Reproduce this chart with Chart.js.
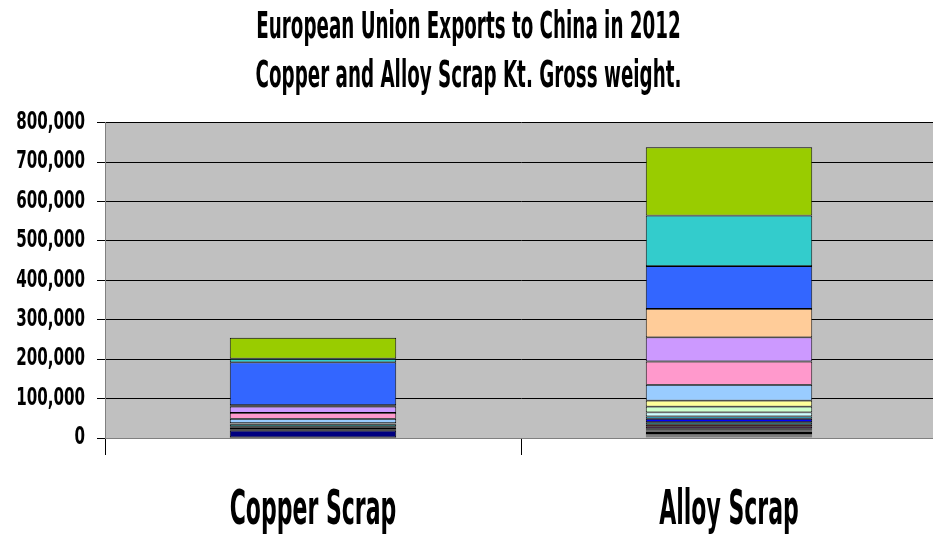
<!DOCTYPE html>
<html>
<head>
<meta charset="utf-8">
<script src="https://cdn.jsdelivr.net/npm/chart.js@4"></script>
<style>
  html, body { margin: 0; padding: 0; background: #fff; }
  /* the plot area runs a few pixels past the right edge */
  #wrap { width: 933px; height: 541px; overflow: hidden; }
</style>
</head>
<body>
<div id="wrap"><canvas id="chart" width="937" height="541"></canvas></div>
<script>
// two product groups, one stacked segment per exporting member state
const categories = ["Copper Scrap", "Alloy Scrap"];

// tonnes per member state, bottom of the stack first
const copperScrap = [
  300, 200, 100, 400, 100, 200, 100, 300, 16800,
  2000, 600, 1500, 3200, 3000, 5800,
  800, 500, 400, 600, 700,
  11000, 15000, 16000, 3500, 109000, 9000, 53000
];
const alloyScrap = [
  2100, 1500, 900, 1300, 700, 2300, 1600, 2200, 3900, 2600, 1800, 2800,
  5100, 5100, 6100, 8900, 5900, 10200, 14500, 15300,
  40000, 59300, 61200, 72100, 108800, 128200, 173200
];

// classic spreadsheet series fill order
const seriesColors = [
  "#9999FF", "#993366", "#FFFFCC", "#CCFFFF", "#660066", "#FF8080", "#0066CC",
  "#CCCCFF", "#000080", "#FF00FF", "#FFFF00", "#00FFFF", "#800080", "#800000",
  "#008080", "#0000FF", "#00CCFF", "#CCFFFF", "#CCFFCC", "#FFFF99", "#99CCFF",
  "#FF99CC", "#CC99FF", "#FFCC99", "#3366FF", "#33CCCC", "#99CC00"
];

const titleLines = [
  "European Union Exports to China in 2012",
  "Copper and Alloy Scrap Kt. Gross weight."
];

const FONT = "'DejaVu Sans Condensed', 'Liberation Sans Narrow', sans-serif";

// horizontal squeeze per font size, gives the tall narrow poster lettering
const textScaleX = { 37: 0.55, 48: 0.51, 24: 0.7 };

const datasets = seriesColors.map((col, i) => ({
  label: "Series " + (i + 1),
  data: [copperScrap[i], alloyScrap[i]],
  backgroundColor: col,
  borderColor: "#000",
  borderWidth: 0.9,
  borderSkipped: false,
  categoryPercentage: 1,
  barPercentage: 0.4
}));

// grey plot area like the old spreadsheet charts
const plotBg = {
  id: "plotBg",
  beforeDraw(c) {
    const { ctx, chartArea: a } = c;
    ctx.save();
    ctx.fillStyle = "#c0c0c0";
    ctx.fillRect(a.left, a.top, a.right - a.left, a.bottom - a.top);
    ctx.restore();
  }
};

const narrowText = {
  id: "narrowText",
  beforeInit(c) {
    const ctx = c.ctx;
    const fill = ctx.fillText;
    ctx.fillText = function (text, x, y) {
      const m = /(\d+(?:\.\d+)?)px/.exec(this.font);
      const sx = (m && textScaleX[Math.round(parseFloat(m[1]))]) || 1;
      this.save();
      this.translate(x, y);
      this.scale(sx, 1);
      fill.call(this, text, 0, 0);
      this.restore();
    };
  }
};

chart = new Chart(document.getElementById("chart"), {
  type: "bar",
  data: { labels: categories, datasets },
  plugins: [plotBg, narrowText],
  options: {
    responsive: false,
    animation: false,
    plugins: {
      legend: { display: false },
      tooltip: { enabled: false },
      title: {
        display: true,
        text: titleLines,
        color: "#000",
        font: { family: FONT, size: 37, weight: "bold", lineHeight: 1.32 },
        padding: { top: 4, bottom: 21 }
      }
    },
    scales: {
      x: {
        stacked: true,
        offset: true,
        grid: { drawOnChartArea: false, color: "#000", tickLength: 17 },
        border: { color: "#808080" },
        ticks: {
          color: "#000",
          padding: 28,
          maxRotation: 0,
          font: { family: FONT, size: 48, weight: "bold" }
        },
        afterFit(s) { s.height = 103; }
      },
      y: {
        stacked: true,
        min: 0,
        max: 800000,
        grid: { color: "#000", tickLength: 8 },
        border: { color: "#808080" },
        ticks: {
          stepSize: 100000,
          color: "#000",
          padding: 12,
          font: { family: FONT, size: 24, weight: "bold" },
          callback: v => v.toLocaleString("en-US")
        },
        afterFit(s) { s.width = 105; }
      }
    }
  }
});
</script>
</body>
</html>
